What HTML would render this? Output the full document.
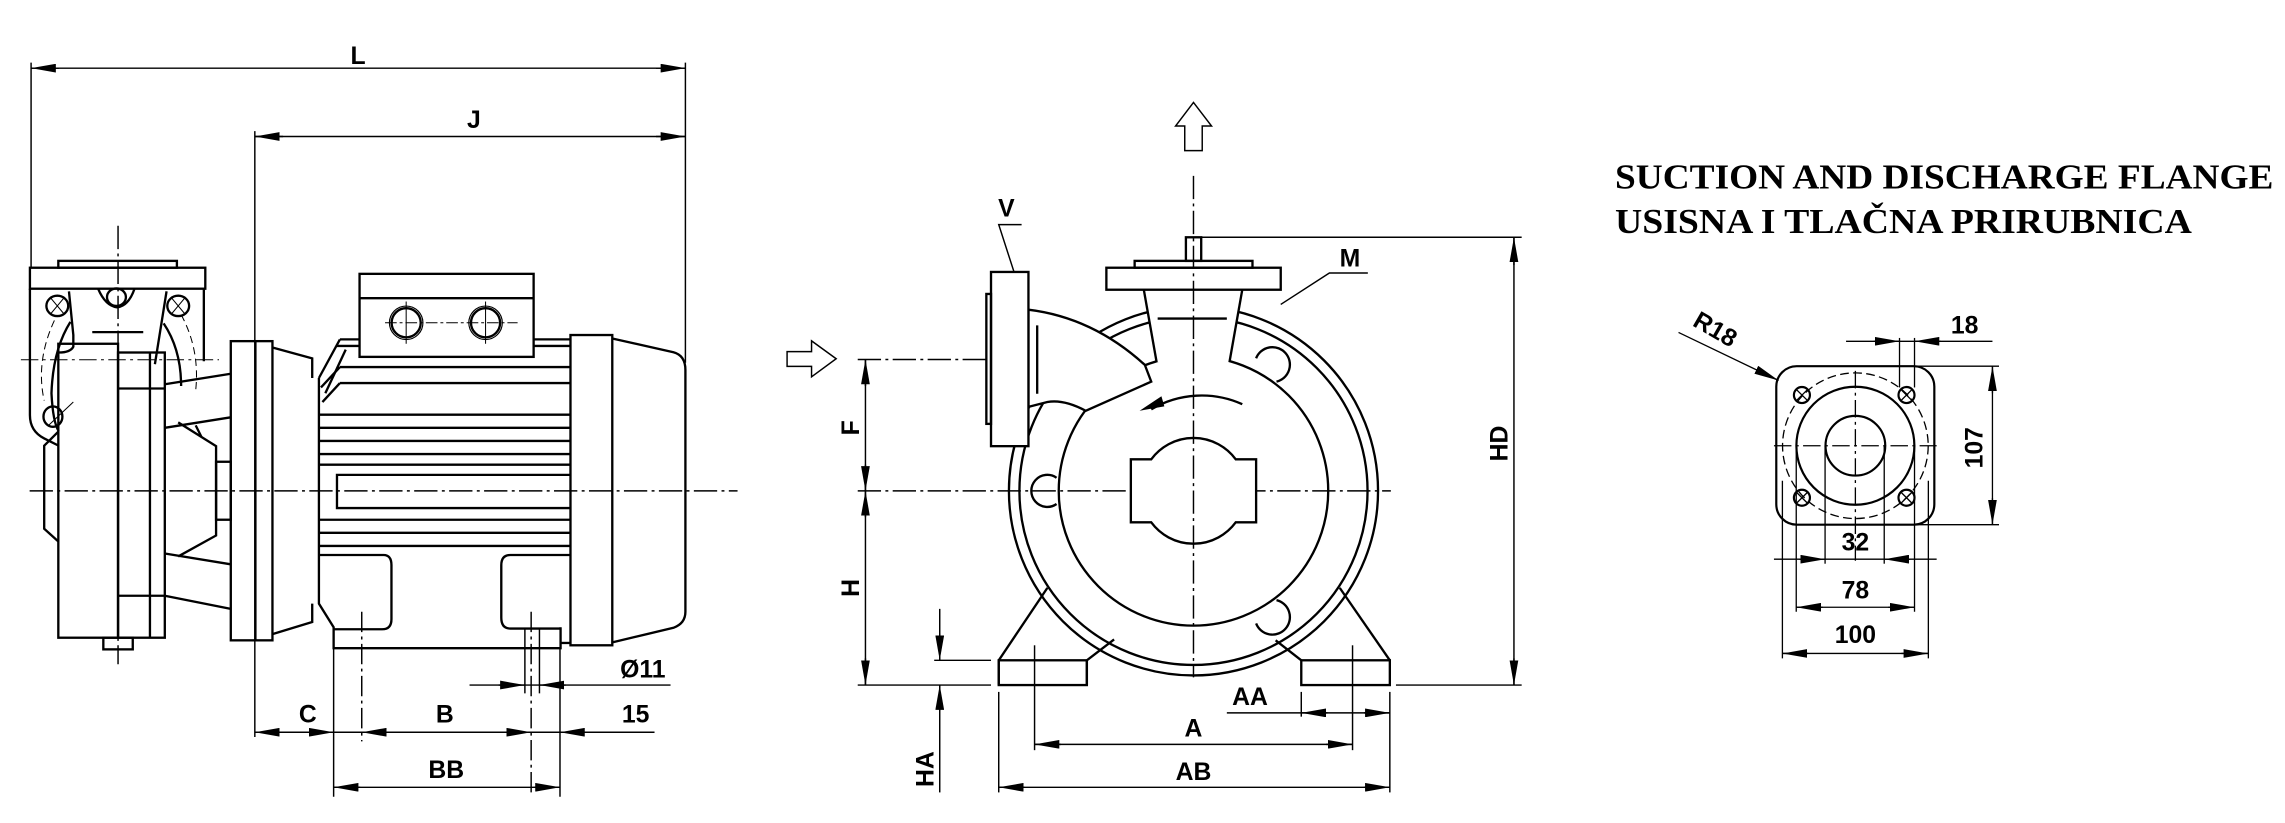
<!DOCTYPE html>
<html><head><meta charset="utf-8"><style>
html,body{margin:0;padding:0;background:#fff;}
svg{display:block;}
text{font-family:"Liberation Sans",Arial,sans-serif;font-weight:bold;fill:#000;}
</style></head><body>
<svg width="2285" height="823" viewBox="0 0 1568 565" xmlns="http://www.w3.org/2000/svg">
<defs>
<marker id="a" markerUnits="userSpaceOnUse" markerWidth="18" markerHeight="6" refX="17" refY="3" orient="auto"><path d="M0,0 L17,3 L0,6 z" fill="#000"/></marker>
</defs>
<g fill="none" stroke="#000" stroke-width="1">
<line x1="21" y1="43" x2="21" y2="184"/>
<line x1="470.2" y1="43" x2="470.2" y2="249"/>
<line x1="174.6" y1="90" x2="174.6" y2="506"/>
<line x1="21" y1="46.8" x2="470.2" y2="46.8"/>
<path d="M40,46.8 L21,46.8" marker-end="url(#a)"/>
<path d="M450,46.8 L470.2,46.8" marker-end="url(#a)"/>
<line x1="174.6" y1="93.7" x2="470.2" y2="93.7"/>
<path d="M194,93.7 L174.6,93.7" marker-end="url(#a)"/>
<path d="M450,93.7 L470.2,93.7" marker-end="url(#a)"/>
<line x1="228.7" y1="445" x2="228.7" y2="547"/>
<line x1="248" y1="420" x2="248" y2="509" stroke-dasharray="14,3,2,3"/>
<line x1="364.3" y1="420" x2="364.3" y2="547" stroke-dasharray="14,3,2,3"/>
<line x1="384.1" y1="445" x2="384.1" y2="547"/>
<line x1="360" y1="431" x2="360" y2="476"/>
<line x1="370" y1="431" x2="370" y2="476"/>
<line x1="174.6" y1="502.7" x2="449" y2="502.7"/>
<path d="M194,502.7 L174.6,502.7" marker-end="url(#a)"/>
<path d="M211,502.7 L228.7,502.7" marker-end="url(#a)"/>
<path d="M266,502.7 L248,502.7" marker-end="url(#a)"/>
<path d="M346,502.7 L364.3,502.7" marker-end="url(#a)"/>
<path d="M402,502.7 L384.1,502.7" marker-end="url(#a)"/>
<line x1="322" y1="470.3" x2="460" y2="470.3"/>
<path d="M342,470.3 L360,470.3" marker-end="url(#a)"/>
<path d="M388,470.3 L370,470.3" marker-end="url(#a)"/>
<line x1="228.7" y1="540.5" x2="384.1" y2="540.5"/>
<path d="M247,540.5 L228.7,540.5" marker-end="url(#a)"/>
<path d="M366,540.5 L384.1,540.5" marker-end="url(#a)"/>
<line x1="20" y1="337" x2="506" y2="337" stroke-dasharray="16,3,2,3"/>
<line x1="80.7" y1="155" x2="80.7" y2="456" stroke-dasharray="16,3,2,3"/>
</g>
<g fill="none" stroke="#000" stroke-width="1.6">
<rect x="39.7" y="179.1" width="81.4" height="4.7"/>
<rect x="20.2" y="183.8" width="120.4" height="14.4"/>
<path d="M20.2,198.2 L20.2,285 Q20.2,296 30,301 L40,306"/>
<path d="M139.6,198.2 L139.6,248"/>
<path d="M40,296 L30,306 L30,363 L40,372"/>
<rect x="39.7" y="236" width="41" height="201.8"/>
<rect x="80.7" y="242" width="32.1" height="195.8"/>
<line x1="102.6" y1="242" x2="102.6" y2="437.8"/>
<line x1="80.7" y1="266.7" x2="112.8" y2="266.7"/>
<line x1="80.7" y1="409" x2="112.8" y2="409"/>
<rect x="70.6" y="437.8" width="20.2" height="8"/>
<ellipse cx="79.6" cy="204" rx="6.5" ry="6"/>
<path d="M67,198.2 Q72,210 80,211 Q88,210 92,198.2"/>
<ellipse cx="39" cy="210" rx="7.5" ry="7"/>
<ellipse cx="122" cy="210" rx="7.5" ry="7"/>
<ellipse cx="36" cy="286" rx="6.5" ry="7"/>
<path d="M47,200 L50,230 L50,238 Q48,242 40,242"/>
<path d="M114,200 L106,250"/>
<path d="M48,221 Q36,240 35,270 Q36,290 40,296"/>
<path d="M112,222 Q124,240 124,265"/>
<line x1="63" y1="228" x2="98" y2="228"/>
<line x1="112.8" y1="263.8" x2="158.1" y2="256.6"/>
<line x1="112.8" y1="293.7" x2="158.1" y2="286.5"/>
<line x1="112.8" y1="409" x2="158.1" y2="418"/>
<line x1="112.8" y1="380" x2="158.1" y2="387.4"/>
<path d="M122,290 L148,306.3 L148,367.6 L122,382"/>
<path d="M134,292 L138,300"/>
<rect x="148" y="317" width="10.1" height="39.8"/>
<rect x="158.1" y="234.2" width="28.6" height="205.4"/>
<line x1="175" y1="234.2" x2="175" y2="439.6"/>
<path d="M186.7,238.6 L214,246 L214,259.5"/>
<path d="M186.7,435.3 L214,427 L214,414.4"/>
<path d="M218.6,259.5 L218.6,414.4 L228.7,430.6 L228.7,445 L384.5,445 L384.5,430.6"/>
<line x1="384.5" y1="441.4" x2="392" y2="441.4"/>
<line x1="233" y1="233" x2="247" y2="233"/>
<line x1="366" y1="233" x2="392" y2="233"/>
<line x1="231" y1="237.5" x2="247" y2="237.5"/>
<line x1="366" y1="237.5" x2="392" y2="237.5"/>
<line x1="233" y1="252" x2="392" y2="252"/>
<line x1="233" y1="263" x2="392" y2="263"/>
<path d="M218.6,259.5 L233,233"/>
<path d="M220,266 L233,252"/>
<path d="M221,276 L233,263"/>
<path d="M223,270 L237,240"/>
<line x1="218.6" y1="284.7" x2="392" y2="284.7"/>
<line x1="218.6" y1="293.7" x2="392" y2="293.7"/>
<line x1="218.6" y1="302.7" x2="392" y2="302.7"/>
<line x1="218.6" y1="311.7" x2="392" y2="311.7"/>
<line x1="218.6" y1="319" x2="392" y2="319"/>
<line x1="218.6" y1="356.8" x2="392" y2="356.8"/>
<line x1="218.6" y1="365.8" x2="392" y2="365.8"/>
<line x1="218.6" y1="374.8" x2="392" y2="374.8"/>
<path d="M392,326 L231,326 L231,348.8 L392,348.8"/>
<path d="M218.6,381 L263,381 Q268.4,381 268.4,388 L268.4,425 Q268.4,432 262,432 L228.7,432"/>
<path d="M391,381 L350,381 Q343.8,381 343.8,388 L343.8,424 Q343.8,431.5 350,431.5 L384.5,431.5"/>
<rect x="246.5" y="188" width="119.5" height="57"/>
<line x1="246.5" y1="204.7" x2="366" y2="204.7"/>
<circle cx="278.5" cy="221.6" r="10"/>
<circle cx="278.5" cy="221.6" r="11.5" stroke-width="0.8"/>
<circle cx="333" cy="221.6" r="10"/>
<circle cx="333" cy="221.6" r="11.5" stroke-width="0.8"/>
<rect x="391.3" y="230" width="28.7" height="213"/>
<path d="M420,232.4 L462,241.8 Q470.2,244 470.2,254 L470.2,420 Q470.2,428 462,431 L420,441"/>
</g>
<g fill="none" stroke="#000" stroke-width="0.7">
<line x1="264" y1="221.6" x2="355" y2="221.6" stroke-dasharray="8,2,2,2"/>
<line x1="278.5" y1="207" x2="278.5" y2="236"/>
<line x1="333" y1="207" x2="333" y2="236"/>
<path d="M34,204 L44,216 M44,204 L34,216 M117,204 L127,216 M127,204 L117,216"/>
<line x1="33" y1="292" x2="50" y2="276"/>
<line x1="14" y1="247" x2="150" y2="247" stroke-dasharray="12,3,2,3"/>
<path d="M37,220 Q24,248 30,275" stroke-dasharray="5,3"/>
<path d="M124,216 Q137,240 134,268" stroke-dasharray="5,3"/>
</g>
<g font-size="17" text-anchor="middle">
<text x="245.5" y="44">L</text>
<text x="325" y="88">J</text>
<text x="211" y="496">C</text>
<text x="305" y="496">B</text>
<text x="436" y="496">15</text>
<text x="441" y="465">Ø11</text>
<text x="306" y="534">BB</text>
</g>

<g fill="none" stroke="#000" stroke-width="1">
<line x1="588.5" y1="337" x2="954.5" y2="337" stroke-dasharray="16,3,2,3"/>
<line x1="588.5" y1="246.8" x2="740" y2="246.8" stroke-dasharray="16,3,2,3"/>
<path d="M819,70.3 L831.4,86.5 L825,86.5 L825,103.4 L813,103.4 L813,86.5 L806.7,86.5 Z"/>
<path d="M573.7,246.3 L556.8,234 L556.8,241.4 L540,241.4 L540,251.5 L556.8,251.5 L556.8,258.7 Z"/>
<line x1="824" y1="162.9" x2="1044.3" y2="162.9"/>
<line x1="1039" y1="162.9" x2="1039" y2="470.3"/>
<path d="M1039,182 L1039,162.9" marker-end="url(#a)"/>
<path d="M1039,452 L1039,470.3" marker-end="url(#a)"/>
<line x1="588.5" y1="470.3" x2="680" y2="470.3"/>
<line x1="958" y1="470.3" x2="1044.3" y2="470.3"/>
<line x1="593.8" y1="246.8" x2="593.8" y2="470.3"/>
<path d="M593.8,265 L593.8,246.8" marker-end="url(#a)"/>
<path d="M593.8,319 L593.8,337" marker-end="url(#a)"/>
<path d="M593.8,355 L593.8,337" marker-end="url(#a)"/>
<path d="M593.8,452 L593.8,470.3" marker-end="url(#a)"/>
<line x1="641" y1="453.3" x2="680" y2="453.3"/>
<line x1="644.8" y1="418" x2="644.8" y2="453.3"/>
<path d="M644.8,435 L644.8,453.3" marker-end="url(#a)"/>
<line x1="644.8" y1="470.3" x2="644.8" y2="544"/>
<path d="M644.8,488 L644.8,470.3" marker-end="url(#a)"/>
<line x1="709.9" y1="443" x2="709.9" y2="515"/>
<line x1="928.2" y1="443" x2="928.2" y2="515"/>
<line x1="685.3" y1="475" x2="685.3" y2="544"/>
<line x1="953.8" y1="475" x2="953.8" y2="544"/>
<line x1="893" y1="475" x2="893" y2="492"/>
<line x1="841.9" y1="489.4" x2="953.8" y2="489.4"/>
<path d="M911,489.4 L893,489.4" marker-end="url(#a)"/>
<path d="M936,489.4 L953.8,489.4" marker-end="url(#a)"/>
<line x1="709.9" y1="511" x2="928.2" y2="511"/>
<path d="M728,511 L709.9,511" marker-end="url(#a)"/>
<path d="M910,511 L928.2,511" marker-end="url(#a)"/>
<line x1="685.3" y1="540.5" x2="953.8" y2="540.5"/>
<path d="M703,540.5 L685.3,540.5" marker-end="url(#a)"/>
<path d="M936,540.5 L953.8,540.5" marker-end="url(#a)"/>
<polyline points="878.9,209 912.3,187.4 938.7,187.4"/>
<polyline points="695.8,186.7 685.3,154.2 701,154.2"/>
</g>
<g fill="none" stroke="#000" stroke-width="1.6">
<circle cx="819" cy="337" r="126.7"/>
<circle cx="819" cy="337" r="119.5"/>
<circle cx="819" cy="337" r="92.5"/>
<path d="M685.3,470.3 L685.3,453.3 L718.7,403.6"/>
<path d="M745.8,470.3 L745.8,453.3 L764.5,439"/>
<rect x="685.3" y="453.3" width="60.5" height="17"/>
<path d="M953.8,453.3 L919.4,403.6"/>
<path d="M893,453.3 L875.4,439.6"/>
<rect x="893" y="453.3" width="60.8" height="17"/>
<path d="M705.7,212.6 Q750,218 785.6,250.5 L790,262 L745,282 Q730,274 718.7,276 L705.7,279.3 Z" fill="#fff"/>
<line x1="711.7" y1="223.4" x2="711.7" y2="270.3"/>
<rect x="680" y="186.7" width="25.7" height="119.6" fill="#fff"/>
<rect x="676.8" y="201.8" width="3.2" height="89.2"/>
<path d="M784.9,198.9 L793.7,248.6 L843.7,248.6 L852.5,198.9 Z" fill="#fff" stroke="none"/>
<line x1="784.9" y1="198.9" x2="793.7" y2="248.6"/>
<line x1="852.5" y1="198.9" x2="843.7" y2="248.6"/>
<line x1="794.4" y1="218.7" x2="841.9" y2="218.7"/>
<rect x="759.2" y="183.8" width="119.7" height="15.1" fill="#fff"/>
<rect x="778.6" y="179.1" width="80.9" height="4.7"/>
<rect x="813.8" y="162.9" width="10.5" height="16.2"/>
<path d="M776,315.3 L790,315.3 A36,36 0 0 1 848,315.3 L862,315.3 L862,358.6 L848,358.6 A36,36 0 0 1 790,358.6 L776,358.6 Z" fill="#fff"/>
<path d="M725,328 A11,11 0 1 0 725,346"/>
<path d="M862,246 A12,12 0 1 1 876,262"/>
<path d="M876,412 A12,12 0 1 1 862,428"/>
<path d="M852.5,277.5 A68,68 0 0 0 790,281"/>
</g>
<line x1="819" y1="120.7" x2="819" y2="465" stroke="#000" stroke-width="1" stroke-dasharray="16,3,2,3"/>
<path d="M782,282 L797,272 L799,279 Z" fill="#000"/>
<g font-size="17" text-anchor="middle">
<text x="690.6" y="148.5">V</text>
<text x="926.4" y="183">M</text>
<text x="857.8" y="484">AA</text>
<text x="819" y="505.5">A</text>
<text x="819" y="535.5">AB</text>
<text transform="translate(1034.5,304.5) rotate(-90)">HD</text>
<text transform="translate(589.5,293.7) rotate(-90)">F</text>
<text transform="translate(589.5,403.6) rotate(-90)">H</text>
<text transform="translate(640.5,528) rotate(-90)">HA</text>
</g>

<g font-size="24" fill="#000">
<text x="1108.4" y="129.5" textLength="452" lengthAdjust="spacingAndGlyphs" style="font-family:'Liberation Serif',serif;font-weight:bold">SUCTION AND DISCHARGE FLANGE</text>
<text x="1108.4" y="160" textLength="396" lengthAdjust="spacingAndGlyphs" style="font-family:'Liberation Serif',serif;font-weight:bold">USISNA I TLAČNA PRIRUBNICA</text>
</g>
<g fill="none" stroke="#000" stroke-width="1.5">
<rect x="1219.1" y="251.4" width="108.5" height="108.8" rx="14"/>
<circle cx="1273.4" cy="306" r="40.5"/>
<circle cx="1273.4" cy="306" r="20.5"/>
<circle cx="1236.7" cy="271.2" r="5.5"/>
<circle cx="1308.5" cy="271.2" r="5.5"/>
<circle cx="1236.7" cy="341.7" r="5.5"/>
<circle cx="1308.5" cy="341.7" r="5.5"/>
</g>
<g fill="none" stroke="#000" stroke-width="0.9">
<circle cx="1273.4" cy="306" r="50" stroke-dasharray="6,3"/>
<path d="M1232.5,267 L1241,275.4 M1241,267 L1232.5,275.4 M1304.3,267 L1312.7,275.4 M1312.7,267 L1304.3,275.4 M1232.5,337.5 L1241,345.9 M1241,337.5 L1232.5,345.9 M1304.3,337.5 L1312.7,345.9 M1312.7,337.5 L1304.3,345.9"/>
<line x1="1217.5" y1="306" x2="1329.2" y2="306" stroke-dasharray="12,3,2,3"/>
<line x1="1273.4" y1="254.6" x2="1273.4" y2="385" stroke-dasharray="12,3,2,3"/>
<path d="M1152,228.2 L1220.7,261.2" marker-end="url(#a)"/>
<line x1="1303.7" y1="232" x2="1303.7" y2="266"/>
<line x1="1314" y1="232" x2="1314" y2="266"/>
<line x1="1267" y1="234.3" x2="1367.5" y2="234.3"/>
<path d="M1286,234.3 L1303.7,234.3" marker-end="url(#a)"/>
<path d="M1332,234.3 L1314,234.3" marker-end="url(#a)"/>
<line x1="1314" y1="251.4" x2="1372" y2="251.4"/>
<line x1="1314" y1="360.2" x2="1372" y2="360.2"/>
<line x1="1367.5" y1="251.4" x2="1367.5" y2="360.2"/>
<path d="M1367.5,270 L1367.5,251.4" marker-end="url(#a)"/>
<path d="M1367.5,342 L1367.5,360.2" marker-end="url(#a)"/>
<line x1="1252.6" y1="306" x2="1252.6" y2="387"/>
<line x1="1293.2" y1="306" x2="1293.2" y2="387"/>
<line x1="1232.8" y1="306" x2="1232.8" y2="420"/>
<line x1="1314" y1="306" x2="1314" y2="420"/>
<line x1="1223.3" y1="330" x2="1223.3" y2="452"/>
<line x1="1323.5" y1="330" x2="1323.5" y2="452"/>
<line x1="1217.5" y1="383.9" x2="1329.2" y2="383.9"/>
<path d="M1235,383.9 L1252.6,383.9" marker-end="url(#a)"/>
<path d="M1311,383.9 L1293.2,383.9" marker-end="url(#a)"/>
<line x1="1232.8" y1="416.9" x2="1314" y2="416.9"/>
<path d="M1251,416.9 L1232.8,416.9" marker-end="url(#a)"/>
<path d="M1296,416.9 L1314,416.9" marker-end="url(#a)"/>
<line x1="1223.3" y1="448.6" x2="1323.5" y2="448.6"/>
<path d="M1241,448.6 L1223.3,448.6" marker-end="url(#a)"/>
<path d="M1305,448.6 L1323.5,448.6" marker-end="url(#a)"/>
</g>
<g font-size="17" text-anchor="middle">
<text transform="translate(1174.4,231) rotate(30)">R18</text>
<text x="1348.4" y="229">18</text>
<text transform="translate(1360.8,307.4) rotate(-90)">107</text>
<text x="1273.4" y="378">32</text>
<text x="1273.4" y="411">78</text>
<text x="1273.4" y="441.5">100</text>
</g>
</svg>
</body></html>
